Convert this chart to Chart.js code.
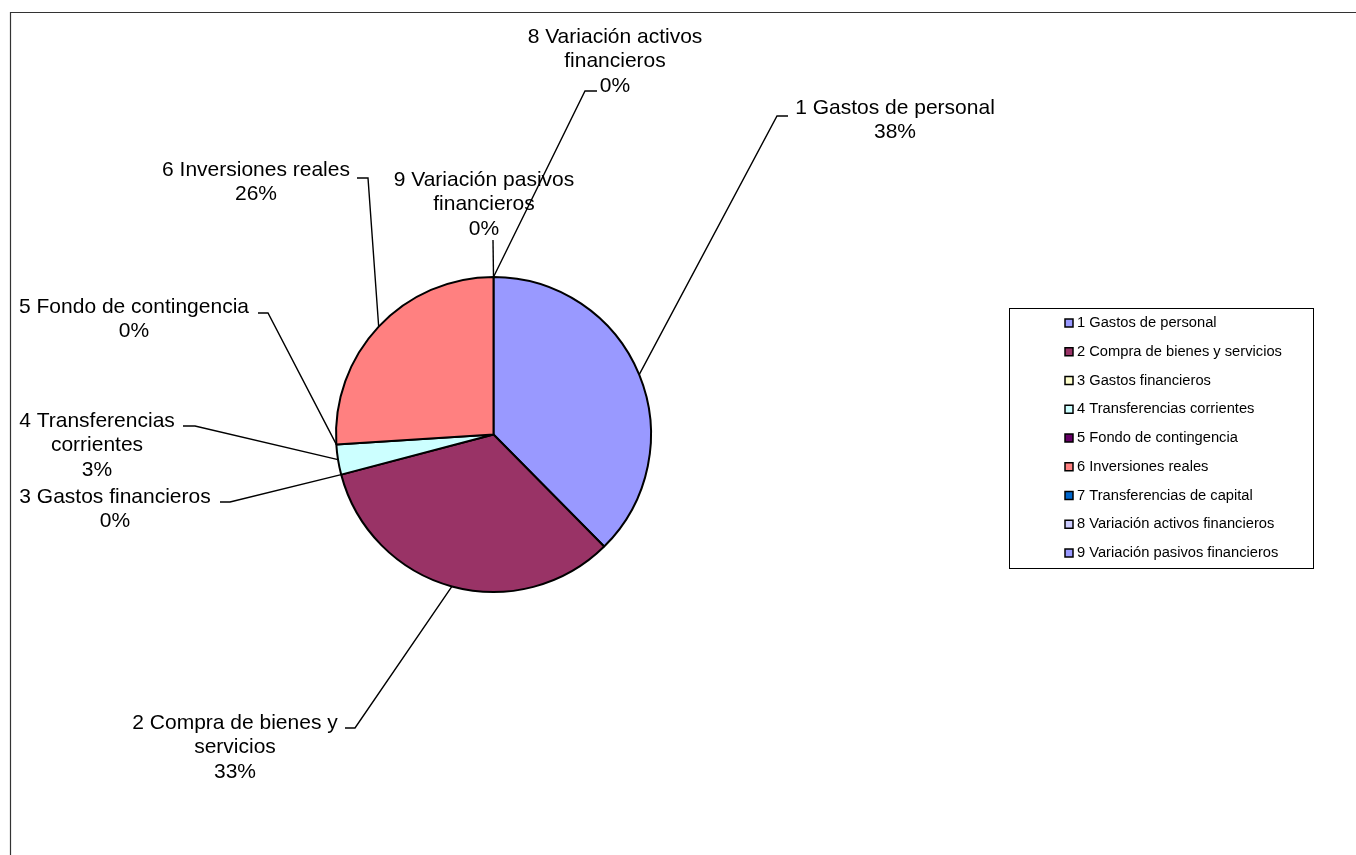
<!DOCTYPE html>
<html lang="es">
<head>
<meta charset="utf-8">
<title>Gastos por capítulos</title>
<script src="https://cdn.jsdelivr.net/npm/chart.js@4.4.1/dist/chart.umd.min.js"></script>
<style>
  html, body { margin: 0; padding: 0; background: #fff; }
  canvas { display: block; }
</style>
</head>
<body>
<canvas id="gastosChart" width="1356" height="855"></canvas>
<script>
// Capítulos del presupuesto de gastos
const capitulos = [
  "1 Gastos de personal",
  "2 Compra de bienes y servicios",
  "3 Gastos financieros",
  "4 Transferencias corrientes",
  "5 Fondo de contingencia",
  "6 Inversiones reales",
  "7 Transferencias de capital",
  "8 Variación activos financieros",
  "9 Variación pasivos financieros"
];

// Peso de cada capítulo (%); el 7 no tiene dato
const porcentajes = [37.6, 33.3, 0, 3.1, 0, 26.0, null, 0, 0];

const colores = [
  "#9999FF", "#993366", "#FFFFCC", "#CCFFFF", "#660066",
  "#FF8080", "#0066CC", "#CCCCFF", "#9999FF"
];

// Colocación de las etiquetas: centro de la primera línea, ancho de ajuste,
// codo y final de la línea guía
const etiquetas = [
  { x: 895, y: 108, maxW: 260, codo: [777, 116], fin: [788, 116] },
  { x: 235, y: 723, maxW: 215, codo: [355, 728], fin: [345, 728] },
  { x: 115, y: 497, maxW: 260, codo: [230, 502], fin: [220, 502] },
  { x: 97,  y: 421, maxW: 200, codo: [195, 426], fin: [183, 426] },
  { x: 134, y: 307, maxW: 260, codo: [268, 313], fin: [258, 313] },
  { x: 256, y: 170, maxW: 260, codo: [368, 178], fin: [357, 178] },
  null,
  { x: 615, y: 37,  maxW: 200, codo: [585, 91], fin: [597, 91] },
  { x: 484, y: 180, maxW: 200, codo: null, fin: [493, 240] }
];

const FUENTE = '"Liberation Sans", Arial, sans-serif';
const INTERLINEA = 24.5;

function ajustarTexto(ctx, texto, maxW) {
  const palabras = texto.split(" ");
  const lineas = [];
  let actual = "";
  palabras.forEach(p => {
    const prueba = actual ? actual + " " + p : p;
    if (actual && ctx.measureText(prueba).width > maxW) {
      lineas.push(actual);
      actual = p;
    } else {
      actual = prueba;
    }
  });
  if (actual) lineas.push(actual);
  return lineas;
}

const marcoYEtiquetas = {
  id: "marcoYEtiquetas",
  afterDraw(chart) {
    const ctx = chart.ctx;
    const meta = chart.getDatasetMeta(0);
    const valores = chart.data.datasets[0].data;
    const total = valores.reduce((s, v) => s + (v || 0), 0);

    ctx.save();

    // marco del gráfico
    ctx.strokeStyle = "#333";
    ctx.lineWidth = 1.2;
    ctx.beginPath();
    ctx.moveTo(10.5, 900);
    ctx.lineTo(10.5, 12.5);
    ctx.lineTo(1400, 12.5);
    ctx.stroke();

    // etiquetas con líneas guía
    ctx.font = "21px " + FUENTE;
    ctx.fillStyle = "#000";
    ctx.textAlign = "center";
    ctx.textBaseline = "middle";
    valores.forEach((v, i) => {
      const et = etiquetas[i];
      if (v === null || !et) return;
      const arco = meta.data[i];
      const medio = (arco.startAngle + arco.endAngle) / 2;
      const r = arco.outerRadius;
      const px = arco.x + Math.cos(medio) * r;
      const py = arco.y + Math.sin(medio) * r;

      ctx.strokeStyle = "#000";
      ctx.lineWidth = 1.4;
      ctx.beginPath();
      ctx.moveTo(px, py);
      if (et.codo) ctx.lineTo(et.codo[0], et.codo[1]);
      ctx.lineTo(et.fin[0], et.fin[1]);
      ctx.stroke();

      const pct = Math.round((v / total) * 100) + "%";
      const lineas = ajustarTexto(ctx, chart.data.labels[i], et.maxW);
      lineas.push(pct);
      lineas.forEach((l, k) => ctx.fillText(l, et.x, et.y + k * INTERLINEA));
    });

    // leyenda
    const lx = 1009.5, ly = 308.5, lw = 304, lh = 260;
    ctx.strokeStyle = "#000";
    ctx.lineWidth = 1;
    ctx.strokeRect(lx, ly, lw, lh);
    ctx.font = "14.7px " + FUENTE;
    ctx.textAlign = "left";
    chart.data.labels.forEach((nombre, i) => {
      const y = 323 + i * 28.75;
      ctx.fillStyle = colores[i];
      ctx.fillRect(1065, y - 4, 8, 8);
      ctx.strokeStyle = "#000";
      ctx.lineWidth = 1.5;
      ctx.strokeRect(1065, y - 4, 8, 8);
      ctx.fillStyle = "#000";
      ctx.fillText(nombre, 1077, y);
    });

    ctx.restore();
  }
};

new Chart(document.getElementById("gastosChart"), {
  type: "pie",
  data: {
    labels: capitulos,
    datasets: [{
      data: porcentajes,
      backgroundColor: colores,
      borderColor: "#000",
      borderWidth: 2
    }]
  },
  options: {
    responsive: false,
    animation: false,
    layout: { padding: { left: 335, top: 276, right: 704, bottom: 262 } },
    plugins: {
      legend: { display: false },
      tooltip: { enabled: false }
    }
  },
  plugins: [marcoYEtiquetas]
});
</script>
</body>
</html>
